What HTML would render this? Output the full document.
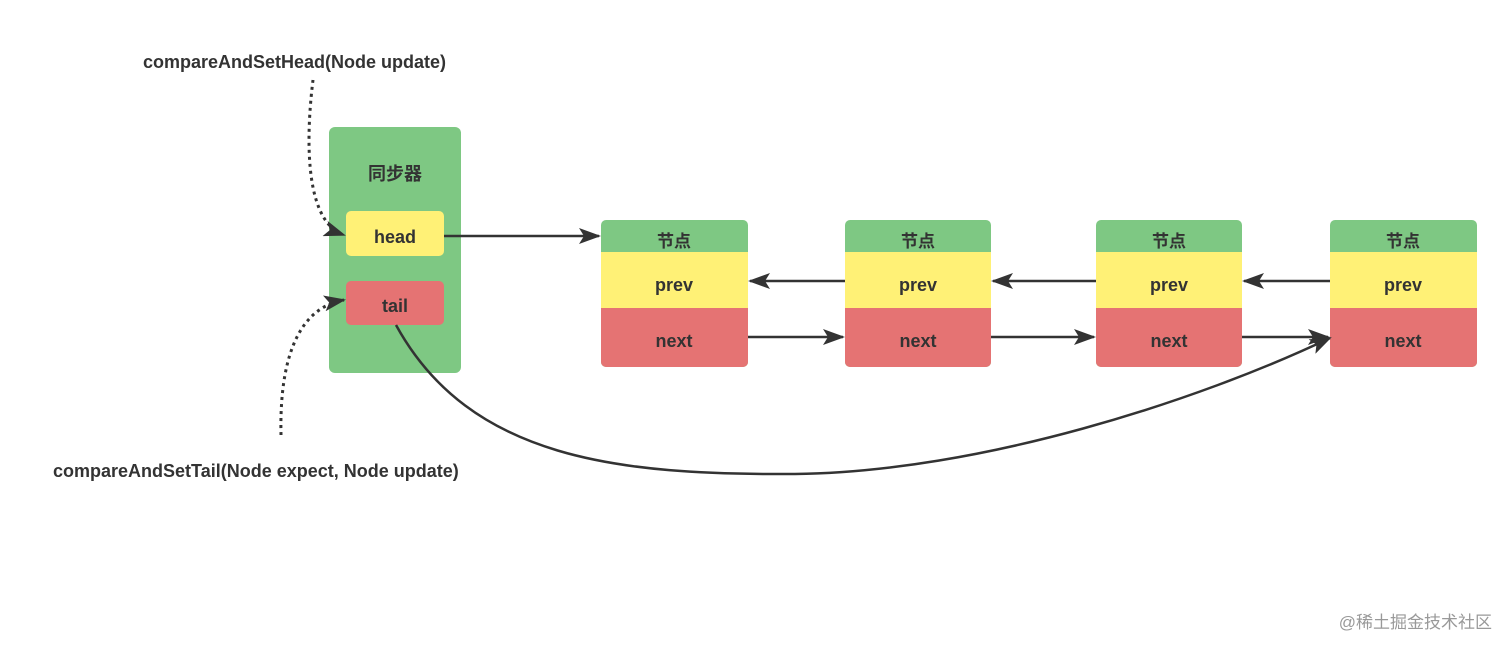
<!DOCTYPE html>
<html><head><meta charset="utf-8"><style>
body{margin:0;background:#fff;width:1512px;height:652px;overflow:hidden}
text{font-family:"Liberation Sans","Noto Sans CJK SC",sans-serif;font-weight:bold;fill:#333}
</style></head><body>
<svg width="1512" height="652" viewBox="0 0 1512 652" xmlns="http://www.w3.org/2000/svg">
<defs><marker id="a" markerWidth="10" markerHeight="10" refX="9" refY="5" orient="auto" markerUnits="userSpaceOnUse"><path d="M0,0 L0,0 L10,5 L0,10 Z" transform="scale(2.2,1.2) translate(-5.5,-0.8)" fill="#333"/></marker>
<marker id="b" markerWidth="22" markerHeight="16" refX="20" refY="8" orient="auto" markerUnits="userSpaceOnUse"><path d="M0,0 L22,8 L0,16 L5,8 Z" fill="#333"/></marker></defs>
<text x="143" y="68" font-size="18">compareAndSetHead(Node update)</text>
<text x="53" y="477" font-size="18">compareAndSetTail(Node expect, Node update)</text>
<rect x="329" y="127" width="132" height="246" rx="6" fill="#7ec883"/>
<text x="395" y="180" font-size="18" text-anchor="middle">同步器</text>
<rect x="346" y="211" width="98" height="45" rx="5" fill="#fff176"/>
<text x="395" y="243" font-size="18" text-anchor="middle">head</text>
<rect x="346" y="281" width="98" height="44" rx="5" fill="#e57373"/>
<text x="395" y="312" font-size="18" text-anchor="middle">tail</text>
<g font-size="18">
<g transform="translate(601,0)"><rect x="0" y="220" width="147" height="147" rx="5" fill="#7ec883"/><rect x="0" y="252" width="147" height="56" fill="#fff176"/><path d="M0,308 H147 V362 a5,5 0 0 1 -5,5 H5 a5,5 0 0 1 -5,-5 Z" fill="#e57373"/><text x="73" y="247" font-size="17" text-anchor="middle">节点</text><text x="73" y="291" text-anchor="middle">prev</text><text x="73" y="347" text-anchor="middle">next</text></g>
<g transform="translate(845,0)"><rect x="0" y="220" width="146" height="147" rx="5" fill="#7ec883"/><rect x="0" y="252" width="146" height="56" fill="#fff176"/><path d="M0,308 H146 V362 a5,5 0 0 1 -5,5 H5 a5,5 0 0 1 -5,-5 Z" fill="#e57373"/><text x="73" y="247" font-size="17" text-anchor="middle">节点</text><text x="73" y="291" text-anchor="middle">prev</text><text x="73" y="347" text-anchor="middle">next</text></g>
<g transform="translate(1096,0)"><rect x="0" y="220" width="146" height="147" rx="5" fill="#7ec883"/><rect x="0" y="252" width="146" height="56" fill="#fff176"/><path d="M0,308 H146 V362 a5,5 0 0 1 -5,5 H5 a5,5 0 0 1 -5,-5 Z" fill="#e57373"/><text x="73" y="247" font-size="17" text-anchor="middle">节点</text><text x="73" y="291" text-anchor="middle">prev</text><text x="73" y="347" text-anchor="middle">next</text></g>
<g transform="translate(1330,0)"><rect x="0" y="220" width="147" height="147" rx="5" fill="#7ec883"/><rect x="0" y="252" width="147" height="56" fill="#fff176"/><path d="M0,308 H147 V362 a5,5 0 0 1 -5,5 H5 a5,5 0 0 1 -5,-5 Z" fill="#e57373"/><text x="73" y="247" font-size="17" text-anchor="middle">节点</text><text x="73" y="291" text-anchor="middle">prev</text><text x="73" y="347" text-anchor="middle">next</text></g>
</g>
<g stroke="#333" stroke-width="2.5" fill="none">
<path d="M444,236 H599" marker-end="url(#b)"/>
<path d="M845,281 H750" marker-end="url(#b)"/>
<path d="M1096,281 H993" marker-end="url(#b)"/>
<path d="M1330,281 H1244" marker-end="url(#b)"/>
<path d="M748,337 H843" marker-end="url(#b)"/>
<path d="M991,337 H1094" marker-end="url(#b)"/>
<path d="M1242,337 H1328" marker-end="url(#b)"/>
<path d="M396,325 C470,460 620,475 795,474 C980,472 1200,400 1330,338" marker-end="url(#b)"/>
<path d="M313,80 C308,120 300,220 344,235" stroke-dasharray="3,4" stroke-width="3" marker-end="url(#b)"/>
<path d="M281,435 C280,390 285,310 344,300" stroke-dasharray="3,4" stroke-width="3" marker-end="url(#b)"/>
</g>
<text x="1492" y="628" font-size="17" font-weight="normal" text-anchor="end" style="font-weight:normal;fill:#999">@稀土掘金技术社区</text>
</svg>
</body></html>
